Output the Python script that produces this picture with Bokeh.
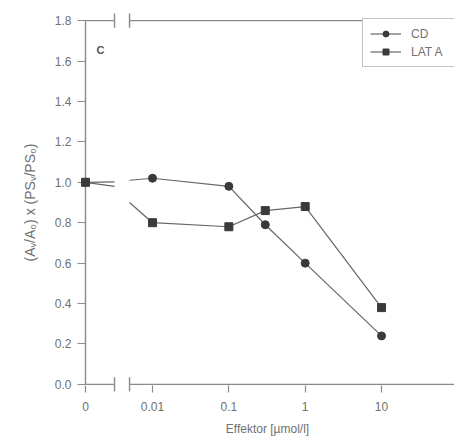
import math
from bokeh.plotting import figure
from bokeh.models import (Range1d, FixedTicker, Arrow, Label, Legend, LegendItem,
                          NumeralTickFormatter, LinearAxis)
from bokeh.embed import file_html
from bokeh.resources import INLINE

# ---- data ----
conc = [0, 0.01, 0.1, 0.3, 1, 10]              # µmol/l
cd = [1.00, 1.02, 0.98, 0.79, 0.60, 0.24]
lat_a = [1.00, 0.80, 0.78, 0.86, 0.88, 0.38]
x_tick_values = [0, 0.01, 0.1, 1, 10]
x_tick_labels = ["0", "0.01", "0.1", "1", "10"]
y_ticks = [0.0, 0.2, 0.4, 0.6, 0.8, 1.0, 1.2, 1.4, 1.6, 1.8]
Y_MIN, Y_MAX = 0.0, 1.8

# ---- broken x scale: linear segment for 0 .. PRE_MAX, then log from BRK_HI ----
X_LEFT = -2.878
X_RIGHT = 1.956
BRK_LO = -2.498
PRE_MAX = 0.001
POST_MIN = 0.005
BRK_HI = math.log10(POST_MIN)
PAD_X = 0.0655   # room left of the y axis line so it is not clipped
PAD_Y = 0.04     # room above / below for the break marks


def pos(c):
    if c <= PRE_MAX:
        return X_LEFT + (c / PRE_MAX) * (BRK_LO - X_LEFT)
    return math.log10(c)


def y_at(c, c0, y0, c1, y1):
    return y0 + (y1 - y0) * (c - c0) / (c1 - c0)


LINE = "#666666"
MARK = "#3a3a3a"
AXIS = "#8a8a8a"
TEXT = "#707070"
FONT = "Liberation Sans"

p = figure(width=454, height=443, output_backend="svg", toolbar_location=None,
           x_range=Range1d(X_LEFT - PAD_X, X_RIGHT),
           y_range=Range1d(Y_MIN - PAD_Y, Y_MAX + PAD_Y),
           min_border_left=80, min_border_right=0, min_border_top=12,
           min_border_bottom=51, x_axis_type=None, y_axis_type=None)
p.outline_line_color = None
p.grid.visible = False
p.background_fill_color = "white"

# left axis (line drawn separately)
yax = LinearAxis(ticker=FixedTicker(ticks=y_ticks),
                 formatter=NumeralTickFormatter(format="0.0"))
yax.axis_line_color = None
yax.major_tick_line_color = AXIS
yax.major_tick_line_width = 1.2
yax.major_tick_out = 3
yax.major_tick_in = 5
yax.minor_tick_line_color = None
yax.major_label_text_font = FONT
yax.major_label_text_font_size = "12px"
yax.major_label_text_color = TEXT
yax.major_label_standoff = 6
yax.axis_label = "(A\u1d65/A\u2080) x (PS\u1d65/PS\u2080)"
yax.axis_label_text_font = FONT
yax.axis_label_text_font_size = "14px"
yax.axis_label_text_font_style = "normal"
yax.axis_label_text_color = TEXT
yax.axis_label_standoff = 14
p.add_layout(yax, "left")

# bottom axis (line drawn separately because of the break)
xax = LinearAxis(ticker=FixedTicker(ticks=[pos(v) for v in x_tick_values]))
xax.major_label_overrides = {pos(v): lab for v, lab in zip(x_tick_values, x_tick_labels)}
xax.axis_line_color = None
xax.major_tick_line_color = AXIS
xax.major_tick_line_width = 1.2
xax.major_tick_out = 0
xax.major_tick_in = 7
xax.minor_tick_line_color = None
xax.major_label_text_font = FONT
xax.major_label_text_font_size = "12px"
xax.major_label_text_color = TEXT
xax.major_label_standoff = 9
xax.axis_label = "Effektor [\u00b5mol/l]"
xax.axis_label_text_font = FONT
xax.axis_label_text_font_size = "12px"
xax.axis_label_text_font_style = "normal"
xax.axis_label_text_color = TEXT
xax.axis_label_standoff = 8
p.add_layout(xax, "below")

# y axis line
p.add_layout(Arrow(end=None, x_start=X_LEFT, y_start=Y_MIN, x_end=X_LEFT, y_end=Y_MAX,
                   line_color=AXIS, line_width=1.4))
# broken bottom and top lines with break marks
for yv in (Y_MIN, Y_MAX):
    p.add_layout(Arrow(end=None, x_start=X_LEFT, y_start=yv, x_end=BRK_LO, y_end=yv,
                       line_color=AXIS, line_width=1.4))
    p.add_layout(Arrow(end=None, x_start=BRK_HI, y_start=yv, x_end=X_RIGHT, y_end=yv,
                       line_color=AXIS, line_width=1.4))
    for xb in (BRK_LO, BRK_HI):
        p.add_layout(Arrow(end=None, x_start=xb, y_start=yv - 0.035, x_end=xb,
                           y_end=yv + 0.035, line_color=AXIS, line_width=1.4))

# series
renderers = {}
for name, ys, marker in (("CD", cd, "circle"), ("LAT A", lat_a, "square")):
    # segment across the axis break (straight line in data space through the broken scale)
    c0, y0, c1, y1 = conc[0], ys[0], conc[1], ys[1]
    p.line([pos(c0), pos(PRE_MAX)], [y0, y_at(PRE_MAX, c0, y0, c1, y1)],
           line_color=LINE, line_width=1.2)
    p.line([BRK_HI, pos(c1)], [y_at(POST_MIN, c0, y0, c1, y1), y1],
           line_color=LINE, line_width=1.2)
    ln = p.line([pos(c) for c in conc[1:]], ys[1:], line_color=LINE, line_width=1.2)
    sc = p.scatter([pos(c) for c in conc], ys, marker=marker, size=8,
                   fill_color=MARK, line_color=MARK)
    sc.level = "overlay"
    renderers[name] = [ln, sc]

# frame: 80..454 x 12..392 ; legend box 362.. x 20..67
legend = Legend(items=[LegendItem(label=k, renderers=v) for k, v in renderers.items()],
                location=(282, 325))
legend.margin = 0
legend.padding = 7
legend.spacing = 3
legend.glyph_width = 31
legend.glyph_height = 15
legend.label_width = 70
legend.label_text_font = FONT
legend.label_text_font_size = "12px"
legend.label_text_color = TEXT
legend.border_line_color = AXIS
legend.border_line_width = 1.4
legend.background_fill_alpha = 1
legend.label_standoff = 10
p.add_layout(legend)

p.add_layout(Label(x=16, y=337, x_units="screen", y_units="screen", text="C",
                   text_font=FONT, text_font_size="11px", text_font_style="bold",
                   text_color="#555555"))

open("out.html", "w").write(file_html(p, INLINE))
